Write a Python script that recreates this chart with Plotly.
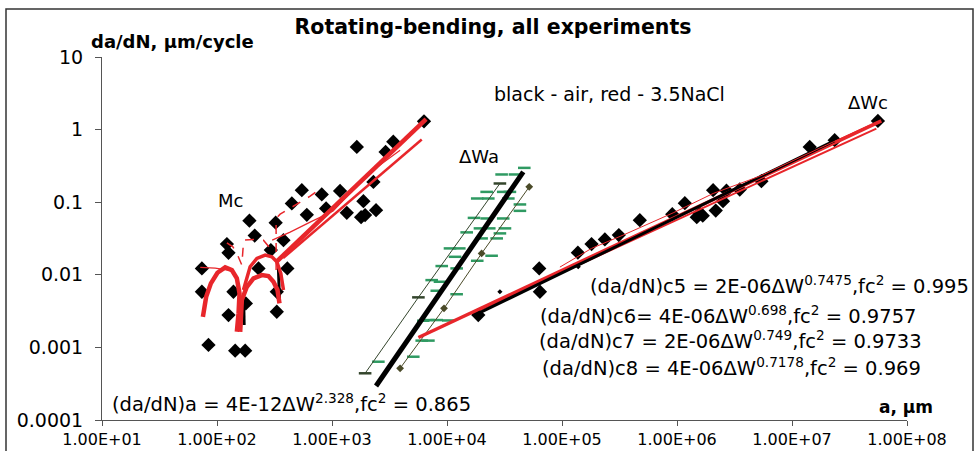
import plotly.graph_objects as go

# ---------------- data ----------------
# Mc, air (black diamonds)
mc_air_x = [73.9, 73.9, 84.3, 121.9, 125.9, 125.9, 139, 143.9, 175.8, 191.4, 212.8, 178.2,
            229.6, 293.8, 323.6, 331.1, 331.1, 378.5, 409, 447.5, 546.5, 604, 814.6, 888.5,
            1175, 1345, 1791, 1940, 1875, 2415, 2291, 1644, 3412, 2925, 6310]
mc_air_y = [0.01225, 0.00584, 0.00108, 0.0265, 0.0201, 0.00279, 0.00584, 0.0009, 0.0009, 0.0557,
            0.0347, 0.00404, 0.01225, 0.0219, 0.0523, 0.00584, 0.0031, 0.030, 0.01225, 0.0961,
            0.1466, 0.067, 0.128, 0.082, 0.143, 0.0713, 0.0622, 0.0664, 0.1033, 0.0777, 0.1905,
            0.578, 0.681, 0.493, 1.30]

# Mc, 3.5NaCl fitted curves (red)
mc_thick_x = [326.6, 6580]
mc_thick_y = [0.01496, 1.389]
mc_mid_x = [376, 6030]
mc_mid_y = [0.017, 0.730]
mc_thin_x = [302, 432.5, 645.7, 1023, 1436, 2143, 3910]
mc_thin_y = [0.030, 0.0387, 0.0531, 0.0754, 0.133, 0.259, 0.520]
mc_arch1_x = [75.4, 80.5, 88.5, 100.9, 117.8, 134.6, 148.8, 157, 153.9, 148.8]
mc_arch1_y = [0.00264, 0.00498, 0.00762, 0.01067, 0.01265, 0.0116, 0.00893, 0.00555, 0.00294, 0.00164]
mc_arch2_x = [159.1, 164.4, 181.9, 207.6, 245.5, 280, 309.7, 335.7, 349.4]
mc_arch2_y = [0.00164, 0.00449, 0.00684, 0.00893, 0.0099, 0.0096, 0.00802, 0.00617, 0.00404]
mc_arch3_x = [169.8, 194.1, 222.2, 262.5, 300, 331.3, 358.8, 378.5]
mc_arch3_y = [0.00617, 0.0129, 0.01683, 0.01866, 0.0177, 0.0151, 0.01045, 0.00617]
mc_tail_x = [71.5, 96.4, 125]
mc_tail_y = [0.01265, 0.01236, 0.0116]
mc_dash1_x = [326.6, 326.6, 354, 477.5, 645.7, 762, 800]
mc_dash1_y = [0.0116, 0.0597, 0.0684, 0.091, 0.121, 0.1466, 0.1387]
mc_dash2_x = [121.9, 137.4, 148.8, 164.4, 170.5, 207.6, 253.5, 280, 295.9]
mc_dash2_y = [0.02755, 0.02427, 0.0197, 0.0136, 0.030, 0.0307, 0.030, 0.0248, 0.0205]
mc_black_a_x = [170.5, 172.2]
mc_black_a_y = [0.00478, 0.00203]
mc_black_b_x = [342, 349.4]
mc_black_b_y = [0.01236, 0.00449]

# Delta Wa
wa_nacl_x = [46990, 29850, 39000, 22130, 30830, 35240, 18320, 22860, 34140, 43050, 43050,
             17170, 22130, 30830, 14830, 19350, 23300, 31920, 28840, 20000, 27040, 10620,
             12790, 24430, 11750, 9000, 18320, 12130, 7360, 8690, 8150, 6890, 8150, 6220,
             10260, 6030, 6890, 5090, 2530, 12130]
wa_nacl_y = [0.297, 0.241, 0.241, 0.1387, 0.1387, 0.1387, 0.1125, 0.1125, 0.1125, 0.0931, 0.076,
             0.0608, 0.0597, 0.0597, 0.0384, 0.0436, 0.0436, 0.0436, 0.0372, 0.0317, 0.0317,
             0.0231, 0.0231, 0.0183, 0.0177, 0.0132, 0.0156, 0.01225, 0.00845, 0.00802, 0.00603,
             0.00238, 0.00238, 0.00233, 0.00235, 0.00124, 0.00124, 0.000744, 0.000635, 0.0054]
wa_fit_x = [2415, 3910, 5820, 8690, 12970, 19360, 28840, 46030]
wa_fit_y = [0.000294, 0.000891, 0.002234, 0.00565, 0.01426, 0.0359, 0.0904, 0.261]
wa_lo_x = [1941, 5640, 28840]
wa_lo_y = [0.00044, 0.00489, 0.181]
wa_hi_x = [3910, 9420, 20000, 51900]
wa_hi_y = [0.000515, 0.00345, 0.0197, 0.1626]

# Delta Wc, air (black diamonds)
wc_air_x = [18710, 63390, 64270, 137400, 180700, 236000, 312000, 475000, 910000, 1170000,
            1486000, 1675000, 1578000, 2172000, 2512000, 2061000, 2692000, 3515000, 5420000,
            14260000, 23500000, 55850000]
wc_air_y = [0.00279, 0.01225, 0.00584, 0.0202, 0.0265, 0.0307, 0.0352, 0.0566, 0.0684, 0.097,
            0.0622, 0.0653, 0.0706, 0.0766, 0.1033, 0.1466, 0.144, 0.1496, 0.1945, 0.578, 0.714,
            1.316]
wc_small_x = [28840, 43050, 138400]
wc_small_y = [0.00584, 0.00584, 0.0129]
wc_fit_air_x = [18710, 23500000]
wc_fit_air_y = [0.00294, 0.703]
wc_fit_r1_x = [5640, 59800000]
wc_fit_r1_y = [0.001368, 1.316]
wc_fit_r2_x = [19360, 54100000]
wc_fit_r2_y = [0.00327, 1.034]
wc_fit_r3_x = [95900, 180700, 340000, 925000, 2061000, 5240000, 17400000, 47300000]
wc_fit_r3_y = [0.01277, 0.0231, 0.0352, 0.0713, 0.1318, 0.228, 0.555, 1.148]

x_tickvals = [1e1, 1e2, 1e3, 1e4, 1e5, 1e6, 1e7, 1e8]
x_ticktext = ["1.00E+01", "1.00E+02", "1.00E+03", "1.00E+04", "1.00E+05", "1.00E+06",
              "1.00E+07", "1.00E+08"]
y_tickvals = [0.0001, 0.001, 0.01, 0.1, 1, 10]
y_ticktext = ["0.0001", "0.001", "0.01", "0.1", "1", "10"]

RED = "#e8262b"
FONT = "DejaVu Sans"

fig = go.Figure()


def line(x, y, color, width, dash="solid"):
    fig.add_trace(go.Scatter(x=x, y=y, mode="lines", line=dict(color=color, width=width, dash=dash),
                             showlegend=False, hoverinfo="skip"))


# markers first
fig.add_trace(go.Scatter(x=mc_air_x, y=mc_air_y, mode="markers",
                         marker=dict(symbol="diamond", size=11, color="black"), showlegend=False))
fig.add_trace(go.Scatter(x=wc_air_x, y=wc_air_y, mode="markers",
                         marker=dict(symbol="diamond", size=11, color="black"), showlegend=False))
fig.add_trace(go.Scatter(x=wc_small_x, y=wc_small_y, mode="markers",
                         marker=dict(symbol="diamond", size=4, color="black"), showlegend=False))
fig.add_trace(go.Scatter(x=wa_nacl_x, y=wa_nacl_y, mode="markers",
                         marker=dict(symbol="line-ew", size=9,
                                     line=dict(color="#2f9a62", width=2.5)), showlegend=False))

# Delta Wa lines
fig.add_trace(go.Scatter(x=wa_lo_x, y=wa_lo_y, mode="lines+markers",
                         line=dict(color="#34452c", width=1),
                         marker=dict(symbol="line-ew", size=9, line=dict(color="#34452c", width=2.5)),
                         showlegend=False))
fig.add_trace(go.Scatter(x=wa_hi_x, y=wa_hi_y, mode="lines+markers",
                         line=dict(color="#4a4a28", width=1),
                         marker=dict(symbol="diamond", size=6, color="#4a4a28"),
                         showlegend=False))
line(wa_fit_x, wa_fit_y, "black", 5)

# Delta Wc lines
line(wc_fit_r1_x, wc_fit_r1_y, RED, 3.5)
line(wc_fit_r2_x, wc_fit_r2_y, RED, 2)
line(wc_fit_air_x, wc_fit_air_y, "black", 3)
line(wc_fit_r3_x, wc_fit_r3_y, RED, 1)

# Mc lines
line(mc_black_a_x, mc_black_a_y, "black", 3)
line(mc_black_b_x, mc_black_b_y, "black", 3)
line(mc_arch1_x, mc_arch1_y, RED, 4.5)
line(mc_arch2_x, mc_arch2_y, RED, 4.5)
line(mc_arch3_x, mc_arch3_y, RED, 3.5)
line(mc_tail_x, mc_tail_y, RED, 1.2)
line(mc_dash1_x, mc_dash1_y, RED, 1.5, "dash")
line(mc_dash2_x, mc_dash2_y, RED, 1.5, "dash")
line(mc_thin_x, mc_thin_y, RED, 1.2)
line(mc_mid_x, mc_mid_y, RED, 2.5)
line(mc_thick_x, mc_thick_y, RED, 4.5)

# ---------------- layout ----------------
PX0, PX1, PY0, PY1 = 102, 907, 57, 420


def px(xp):
    return (xp - PX0) / (PX1 - PX0)


def py(yp):
    return (PY1 - yp) / (PY1 - PY0)


ann = []


def text(t, x, y, size, anchor="center", bold=False):
    ann.append(dict(text=("<b>%s</b>" % t) if bold else t, x=px(x), y=py(y), xref="paper",
                    yref="paper", xanchor=anchor, yanchor="middle", showarrow=False,
                    font=dict(family=FONT, size=size, color="black")))


text("da/dN, μm/cycle", 172, 42, 18, bold=True)
text("black - air, red - 3.5NaCl", 609, 94, 19)
text("ΔWc", 868, 103, 18)
text("Mc", 230, 200, 18)
text("ΔWa", 479, 156, 18)
text("(da/dN)c5 = 2E-06ΔW<sup>0.7475</sup>,fc<sup>2</sup> = 0.995", 588, 285, 19.5, "left")
text("(da/dN)c6= 4E-06ΔW<sup>0.698</sup>,fc<sup>2</sup> = 0.9757", 538, 315, 19.5, "left")
text("(da/dN)c7 = 2E-06ΔW<sup>0.749</sup>,fc<sup>2</sup> = 0.9733", 537, 340, 19.5, "left")
text("(da/dN)c8 = 4E-06ΔW<sup>0.7178</sup>,fc<sup>2</sup> = 0.969", 540, 367, 19.5, "left")
text("(da/dN)a = 4E-12ΔW<sup>2.328</sup>,fc<sup>2</sup> = 0.865", 110, 403, 19.5, "left")
text("a, μm", 877, 407, 17, "left", bold=True)

fig.update_layout(
    width=977, height=451,
    margin=dict(l=PX0, r=977 - PX1, t=PY0, b=451 - PY1, autoexpand=False),
    paper_bgcolor="white", plot_bgcolor="white",
    title=dict(text="<b>Rotating-bending, all experiments</b>", x=493 / 977, xanchor="center",
               y=1 - 27 / 451, yanchor="middle", font=dict(family=FONT, size=20.5, color="black")),
    annotations=ann,
    shapes=[dict(type="rect", xref="paper", yref="paper", x0=px(6), x1=px(973), y0=py(460),
                 y1=py(9), line=dict(color="#333333", width=1.5))],
    xaxis=dict(type="log", range=[1, 8], tickvals=x_tickvals, ticktext=x_ticktext,
               ticks="outside", ticklen=5, tickcolor="#555", showline=True, linecolor="#555",
               linewidth=1, showgrid=False, zeroline=False, ticklabelstandoff=0,
               tickfont=dict(family=FONT, size=16, color="black")),
    yaxis=dict(type="log", range=[-4, 1], tickvals=y_tickvals, ticktext=y_ticktext,
               ticks="outside", ticklen=6, tickcolor="#555", showline=True, linecolor="#555",
               linewidth=1, showgrid=False, zeroline=False, ticklabelstandoff=8,
               tickfont=dict(family=FONT, size=19, color="black")),
)

fig.write_html("out.html", config={"displayModeBar": False})

# remove the default body margin so the 977x451 figure fills the window exactly
with open("out.html", "r", encoding="utf-8") as f:
    html = f.read()
html = html.replace("<body>", '<body style="margin:0;padding:0;overflow:hidden">', 1)
with open("out.html", "w", encoding="utf-8") as f:
    f.write(html)
